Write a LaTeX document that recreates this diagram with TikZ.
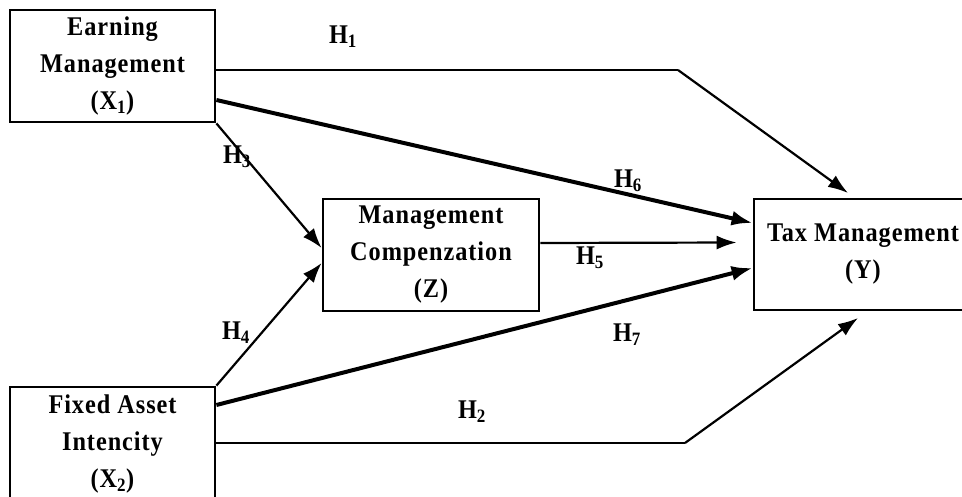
\documentclass[tikz,border=0pt]{standalone}
\usepackage{fontspec}
\setmainfont{Liberation Serif}
\newfontfamily\boxfont[LetterSpace=3.5,FakeStretch=0.9]{Liberation Serif}
\newfontfamily\hypfont[FakeStretch=0.9]{Liberation Serif}
\usetikzlibrary{arrows.meta,calc}
\begin{document}
\begin{tikzpicture}[x=1pt,y=-1pt,
  box/.style={draw,line width=2.8pt,inner sep=0pt,align=center,
    font=\boxfont\bfseries\fontsize{27}{37}\selectfont},
  hyp/.style={font=\hypfont\bfseries\fontsize{27}{28}\selectfont,inner sep=0pt},
  thinarr/.style={line width=2.2pt,-{Latex[length=20pt,width=14pt]}},
  thickarr/.style={line width=4pt,-{Latex[length=21pt,width=15pt]}},
  thinline/.style={line width=2.2pt}]
\useasboundingbox (0,0) rectangle (962,497);
\clip (0,0) rectangle (962,497);
% boxes
\node[box,minimum width=205pt,minimum height=112pt] (X1) at (112.5,66)
  {Earning\\Management\\(X\textsubscript{1})};
\node[box,minimum width=216pt,minimum height=112pt] (Z) at (431,255)
  {Management\\Compenzation\\(Z)};
\node[box,minimum width=218pt,minimum height=111pt] (Y) at (863,254.5)
  {Tax Management\\(Y)};
\node[box,minimum width=205pt,minimum height=114pt] (X2) at (112.5,444)
  {Fixed Asset\\Intencity\\(X\textsubscript{2})};
% bend points and free ends
\coordinate (b1) at (678,70);
\coordinate (t1) at (848,193);
\coordinate (b2) at (685,443);
\coordinate (t2) at (858,318);
% connectors
\draw[thinline] (X1.east |- b1) -- (b1);
\draw[thinarr] (b1) -- (t1);
\draw[thickarr] ([yshift=-34pt]X1.east) -- ([yshift=31.5pt]Y.west);
\draw[thinarr] (X1.south east) -- ([yshift=7pt]Z.west);
\draw[thinarr] (X2.north east) -- ([yshift=-8pt]Z.west);
\draw[thinarr] ([yshift=12pt]Z.east) -- ([xshift=-16pt,yshift=12pt]Y.west);
\draw[thickarr] ([yshift=39pt]X2.east) -- ([yshift=-13.5pt]Y.west);
\draw[thinline] (X2.east |- b2) -- (b2);
\draw[thinarr] (b2) -- (t2);
% labels
\node[hyp] (h1) at (343,37) {H\textsubscript{1}};
\node[hyp] (h3) at (237,157) {H\textsubscript{3}};
\node[hyp] (h6) at (628,181) {H\textsubscript{6}};
\node[hyp] (h5) at (590,258) {H\textsubscript{5}};
\node[hyp] (h4) at (236,333) {H\textsubscript{4}};
\node[hyp] (h7) at (627,335) {H\textsubscript{7}};
\node[hyp] (h2) at (472,412) {H\textsubscript{2}};
\end{tikzpicture}
\end{document}
